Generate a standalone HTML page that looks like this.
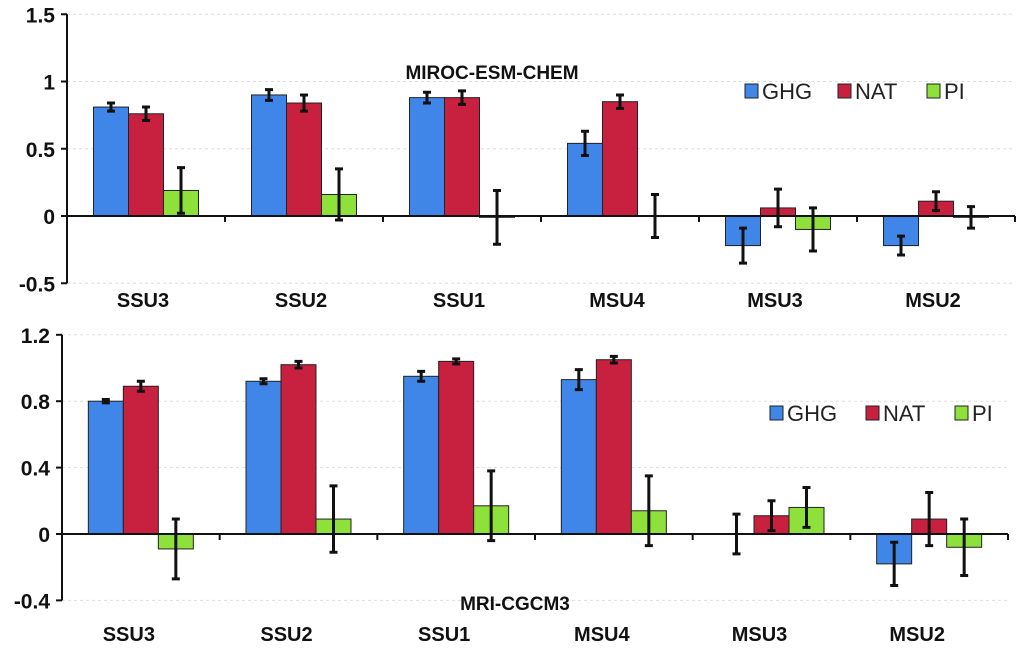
<!DOCTYPE html>
<html><head><meta charset="utf-8">
<style>
body{margin:0;background:#fff;}
svg{display:block;font-family:"Liberation Sans",sans-serif;}
</style></head>
<body>
<svg id="chart" width="1024" height="651"></svg>
<script>
const categories = ["SSU3","SSU2","SSU1","MSU4","MSU3","MSU2"];
const seriesNames = ["GHG","NAT","PI"];
const topGHG = [0.81,0.90,0.88,0.54,-0.22,-0.22];
const topGHGerr = [0.03,0.04,0.04,0.09,0.13,0.07];
const topNAT = [0.76,0.84,0.88,0.85,0.06,0.11];
const topNATerr = [0.05,0.06,0.05,0.05,0.14,0.07];
const topPI = [0.19,0.16,-0.01,0.0,-0.10,-0.01];
const topPIerr = [0.17,0.19,0.20,0.16,0.16,0.08];
const topTicks = [1.5,1,0.5,0,-0.5];
const topTickLabels = ["1.5","1","0.5","0","-0.5"];
const botGHG = [0.80,0.92,0.95,0.93,0.0,-0.18];
const botGHGerr = [0.01,0.015,0.03,0.06,0.12,0.13];
const botNAT = [0.89,1.02,1.04,1.05,0.11,0.09];
const botNATerr = [0.03,0.02,0.015,0.02,0.09,0.16];
const botPI = [-0.09,0.09,0.17,0.14,0.16,-0.08];
const botPIerr = [0.18,0.20,0.21,0.21,0.12,0.17];
const botTicks = [1.2,0.8,0.4,0,-0.4];
const botTickLabels = ["1.2","0.8","0.4","0","-0.4"];

const NS="http://www.w3.org/2000/svg";
const svg=document.getElementById('chart');
const colors=["#3f86e8","#c8203f","#8ee03a"];
function mk(tag,attrs,parent){const e=document.createElementNS(NS,tag);for(const k in attrs)e.setAttribute(k,attrs[k]);(parent||svg).appendChild(e);return e;}

function panel(cfg){
  const g=mk('g',{});
  
  
  const y=v=>cfg.y0-(v)*cfg.scale;
  const gw=(cfg.x1-cfg.x0)/categories.length;
  cfg.ticks.forEach((t,i)=>{
    if(t!==0){const gl=mk('line',{x1:cfg.x0,x2:cfg.x1,y1:y(t),y2:y(t),stroke:'#ddd','stroke-dasharray':'3,3'},g);
      }
    const tl=mk('text',{x:cfg.x0-12,y:y(t)+8,'text-anchor':'end','font-size':'21','font-weight':'bold',fill:'#111'},g);
    tl.textContent=cfg.tickLabels[i];
    
    mk('line',{x1:cfg.x0-6,x2:cfg.x0,y1:y(t),y2:y(t),stroke:'#111','stroke-width':2},g);
  });
  const ax=mk('line',{x1:cfg.x0,x2:cfg.x0,y1:y(cfg.ticks[0]),y2:y(cfg.ticks[cfg.ticks.length-1]),stroke:'#111','stroke-width':2},g);
  
  const series=[[cfg.a,cfg.ae],[cfg.b,cfg.be],[cfg.c,cfg.ce]];
  const bw=35;
  categories.forEach((cat,i)=>{
    const gx=cfg.x0+i*gw, start=gx+(gw-3*bw)/2;
    series.forEach((s,j)=>{
      const v=s[0][i], e=s[1][i], x=start+j*bw;
      const r=mk('rect',{x:x,y:Math.min(y(v),y(0)),width:bw,height:Math.max(Math.abs(y(v)-y(0)),0.5),fill:colors[j],stroke:'#222','stroke-width':1},g);
      
      
      const cx=x+bw/2;
      const eb=mk('path',{d:`M${cx} ${y(v+e)}V${y(v-e)}M${cx-4} ${y(v+e)}H${cx+4}M${cx-4} ${y(v-e)}H${cx+4}`,stroke:'#111','stroke-width':3,fill:'none'},g);
      
    });
    const lab=mk('text',{x:gx+gw/2+cfg.labOff,y:cfg.labY,'text-anchor':'middle','font-size':'20','font-weight':'bold',fill:'#111'},g);
    lab.textContent=cat;
    
    if(i>0) mk('line',{x1:gx,x2:gx,y1:y(0),y2:y(0)+6,stroke:'#111','stroke-width':2},g);
  });
  mk('line',{x1:cfg.x1,x2:cfg.x1,y1:y(0),y2:y(0)+6,stroke:'#111','stroke-width':2},g);
  const zl=mk('line',{x1:cfg.x0,x2:cfg.x1,y1:y(0),y2:y(0),stroke:'#111','stroke-width':2},g);
  
  const tt=mk('text',{x:cfg.titleX,y:cfg.titleY,'text-anchor':'middle','font-size':'19','font-weight':'bold',fill:'#111'},g);
  tt.textContent=cfg.title;
  
  cfg.legX.forEach((lx,j)=>{
    const le=mk('g',{},g);
    
    mk('rect',{x:lx,y:cfg.legY-13,width:13,height:14,fill:colors[j],stroke:'#222','stroke-width':1},le);
    const t=mk('text',{x:lx+17,y:cfg.legY+2,'font-size':'22',fill:'#222'},le);
    t.textContent=seriesNames[j];
  });
}
panel({name:'top-panel',x0:67,x1:1015,y0:216,scale:134.5,ticks:topTicks,tickLabels:topTickLabels,
  a:topGHG,ae:topGHGerr,b:topNAT,be:topNATerr,c:topPI,ce:topPIerr,labY:307,labOff:-3,
  title:'MIROC-ESM-CHEM',titleX:492,titleY:79,legX:[745,838,927],legY:97});
panel({name:'bottom-panel',x0:62,x1:1008,y0:534,scale:166,ticks:botTicks,tickLabels:botTickLabels,
  a:botGHG,ae:botGHGerr,b:botNAT,be:botNATerr,c:botPI,ce:botPIerr,labY:641,labOff:-12,
  title:'MRI-CGCM3',titleX:515,titleY:610,legX:[770,866,955],legY:419});
</script>
</body></html>
